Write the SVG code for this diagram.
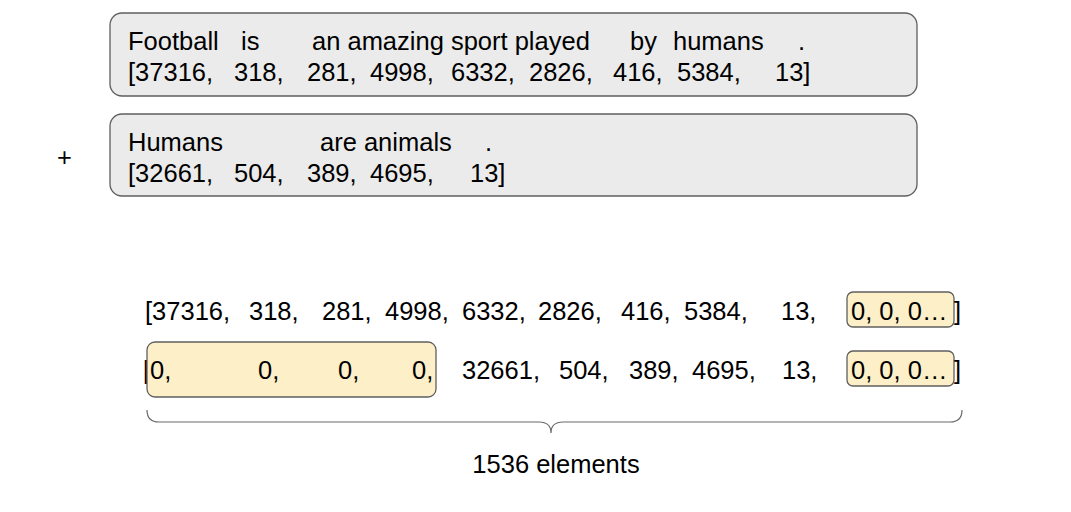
<svg xmlns="http://www.w3.org/2000/svg" width="1071" height="512" viewBox="0 0 1071 512">
<style>
.t{font-family:"Liberation Sans",Arial,sans-serif;font-size:25.5px;fill:#000}
.box{fill:#ebebeb;stroke:#5f5f5f;stroke-width:1.3}
.pad{fill:#fdefc8;stroke:#5f5f5f;stroke-width:1.3}
.brace{fill:none;stroke:#6b6b6b;stroke-width:1.2}
</style>
<g id="sentence1">
<rect class="box" x="110" y="13" width="807" height="83" rx="12"/>
<text class="t" y="50"><tspan x="128">Football</tspan><tspan x="241">is</tspan><tspan x="312">an amazing sport played</tspan><tspan x="630">by</tspan><tspan x="673">humans</tspan><tspan x="798">.</tspan></text>
<text class="t" y="81"><tspan x="128">[37316,</tspan><tspan x="234">318,</tspan><tspan x="307">281,</tspan><tspan x="370">4998,</tspan><tspan x="451">6332,</tspan><tspan x="529">2826,</tspan><tspan x="613">416,</tspan><tspan x="677">5384,</tspan><tspan x="775">13]</tspan></text>
</g>
<g id="plus"><text class="t" x="57" y="166">+</text></g>
<g id="sentence2">
<rect class="box" x="110" y="114" width="807" height="82" rx="12"/>
<text class="t" y="151"><tspan x="128">Humans</tspan><tspan x="320">are animals</tspan><tspan x="485">.</tspan></text>
<text class="t" y="182"><tspan x="128">[32661,</tspan><tspan x="234">504,</tspan><tspan x="307">389,</tspan><tspan x="370">4695,</tspan><tspan x="470">13]</tspan></text>
</g>
<g id="row1">
<rect class="pad" x="847" y="292" width="107" height="35" rx="6"/>
<text class="t" y="320"><tspan x="145">[37316,</tspan><tspan x="249">318,</tspan><tspan x="322">281,</tspan><tspan x="385">4998,</tspan><tspan x="462">6332,</tspan><tspan x="538">2826,</tspan><tspan x="621">416,</tspan><tspan x="684">5384,</tspan><tspan x="781">13,</tspan><tspan x="851">0, 0, 0…</tspan><tspan x="954">]</tspan></text>
</g>
<g id="row2">
<text class="t" x="143" y="379">[</text>
<rect class="pad" x="147" y="342" width="289" height="55" rx="8"/>
<rect class="pad" x="847" y="351" width="107" height="35" rx="6"/>
<text class="t" y="379"><tspan x="150">0,</tspan><tspan x="258">0,</tspan><tspan x="338">0,</tspan><tspan x="412">0,</tspan><tspan x="462">32661,</tspan><tspan x="559">504,</tspan><tspan x="629">389,</tspan><tspan x="692">4695,</tspan><tspan x="782">13,</tspan><tspan x="851">0, 0, 0…</tspan><tspan x="954">]</tspan></text>
</g>
<g id="connectors">
<path class="brace" d="M147,410 Q147,422 159,422 L539,422 Q551,422 551,433 Q551,422 563,422 L950,422 Q962,422 962,410"/>
</g>
<g id="label"><text class="t" x="556" y="473" text-anchor="middle">1536 elements</text></g>
</svg>
